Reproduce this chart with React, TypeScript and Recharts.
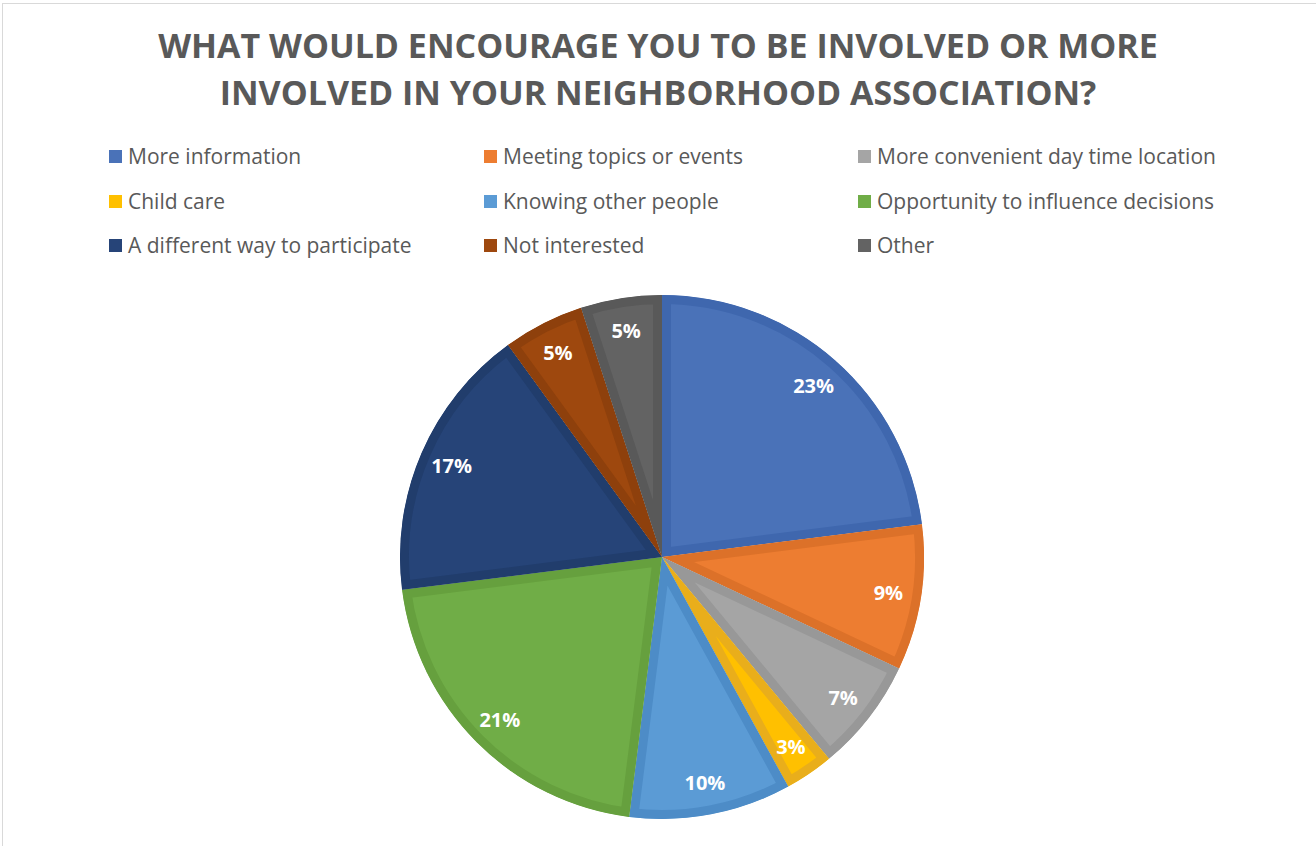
import React from "react";
import { PieChart, Pie, Cell, Sector, Legend } from "recharts";

const categories = [
  "More information",
  "Meeting topics or events",
  "More convenient day time location",
  "Child care",
  "Knowing other people",
  "Opportunity to influence decisions",
  "A different way to participate",
  "Not interested",
  "Other",
];
const values = [23, 9, 7, 3, 10, 21, 17, 5, 5];
const fillColors = ["#4A72B8", "#ED7D31", "#A5A5A5", "#FFC000", "#5B9BD5", "#70AD47", "#264478", "#9E480E", "#636363"];
const edgeColors = ["#3F67AE", "#DC7129", "#989898", "#E9AE1B", "#4D8CC7", "#66A03E", "#213D6C", "#8E400C", "#595959"];
const titleLines = ["WHAT WOULD ENCOURAGE YOU TO BE INVOLVED OR MORE", "INVOLVED IN YOUR NEIGHBORHOOD ASSOCIATION?"];

const data = categories.map((name, i) => ({ name, value: values[i], idx: i }));

const RADIAN = Math.PI / 180;
const FONT = "'Open Sans', sans-serif";

const renderSlice = (props: any) => {
  const { cx, cy, innerRadius, outerRadius, startAngle, endAngle } = props;
  const i = props.idx ?? (props.payload && props.payload.idx) ?? props.index ?? 0;
  const id = `slice-clip-${i}`;
  return (
    <g>
      <defs>
        <clipPath id={id}>
          <Sector cx={cx} cy={cy} innerRadius={innerRadius} outerRadius={outerRadius} startAngle={startAngle} endAngle={endAngle} />
        </clipPath>
      </defs>
      <Sector
        cx={cx}
        cy={cy}
        innerRadius={innerRadius}
        outerRadius={outerRadius}
        startAngle={startAngle}
        endAngle={endAngle}
        fill={fillColors[i]}
        stroke={edgeColors[i]}
        strokeWidth={18}
        clipPath={`url(#${id})`}
      />
    </g>
  );
};

const renderLabel = (props: any) => {
  const { cx, cy, midAngle, outerRadius, percent } = props;
  const r = outerRadius * 0.875;
  const x = cx + r * Math.cos(-midAngle * RADIAN);
  const y = cy + r * Math.sin(-midAngle * RADIAN);
  return (
    <text x={x} y={y} fill="#FFFFFF" textAnchor="middle" dominantBaseline="central" fontFamily={FONT} fontWeight={700} fontSize={20}>
      {`${Math.round(percent * 100)}%`}
    </text>
  );
};

const colX = [109, 484, 858];
const rowY = [157, 202, 246];

const renderLegend = () => (
  <div style={{ position: "relative", width: 1316, height: 130 }}>
    {categories.map((c, i) => {
      const col = i % 3;
      const row = Math.floor(i / 3);
      return (
        <div
          key={c}
          style={{
            position: "absolute",
            left: colX[col],
            top: rowY[row] - 140 - 15,
            height: 28,
            display: "flex",
            alignItems: "center",
            whiteSpace: "nowrap",
            fontFamily: FONT,
            fontSize: 21,
            color: "#595959",
          }}
        >
          <span style={{ display: "inline-block", width: 13, height: 13, background: fillColors[i], marginRight: 6 }} />
          {c}
        </div>
      );
    })}
  </div>
);

export default function App() {
  return (
    <div style={{ position: "absolute", left: 0, top: 0, width: 1316, height: 846, background: "#FFFFFF", overflow: "hidden" }}>
      <div style={{ position: "absolute", left: 2, top: 3, width: 1400, height: 900, borderTop: "1px solid #D9D9D9", borderLeft: "1px solid #D9D9D9" }} />
      <div
        style={{
          position: "absolute",
          left: 0,
          top: 22,
          width: 1316,
          textAlign: "center",
          fontFamily: FONT,
          fontWeight: 700,
          fontSize: 34,
          lineHeight: "47px",
          color: "#595959",
        }}
      >
        {titleLines.map((t) => (
          <div key={t}>{t}</div>
        ))}
      </div>
      <div style={{ position: "absolute", left: 0, top: 0 }}>
        <PieChart width={1316} height={846} margin={{ top: 0, right: 0, bottom: 0, left: 0 }}>
          <Legend content={renderLegend} wrapperStyle={{ position: "absolute", top: 140, left: 0, width: 1316, height: 130 }} />
          <Pie
            data={data}
            dataKey="value"
            nameKey="name"
            cx={662}
            cy={557}
            innerRadius={0}
            outerRadius={262}
            startAngle={90}
            endAngle={-270}
            stroke="none"
            isAnimationActive={false}
            labelLine={false}
            label={renderLabel}
            shape={renderSlice}
          >
            {data.map((d, i) => (
              <Cell key={d.name} fill={fillColors[i]} />
            ))}
          </Pie>
        </PieChart>
      </div>
    </div>
  );
}
